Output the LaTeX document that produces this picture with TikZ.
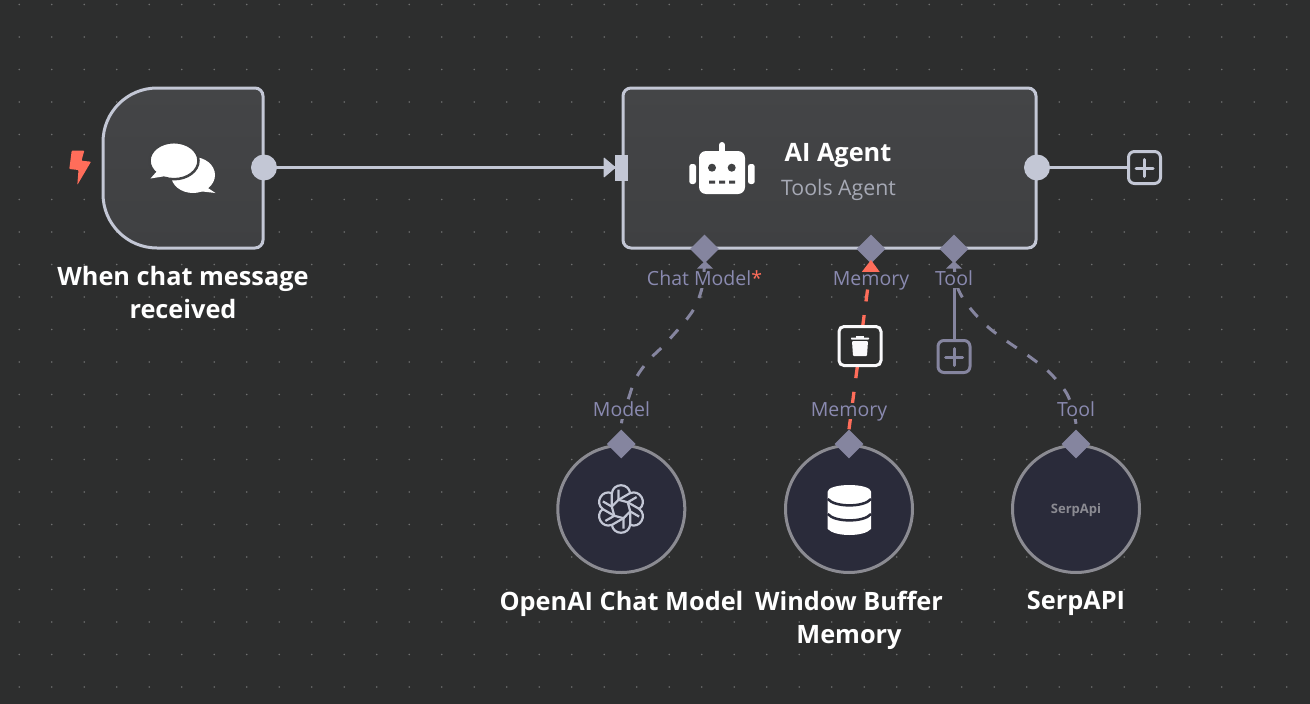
\documentclass[tikz,border=0pt]{standalone}
\usepackage{fontspec}
\usetikzlibrary{shapes.geometric}
\setmainfont{Open Sans}
\definecolor{bgc}{HTML}{2D2E2E}
\definecolor{edgec}{HTML}{C3C7D5}
\definecolor{portc}{HTML}{85859F}
\definecolor{lblc}{HTML}{8A8AB0}
\definecolor{redc}{HTML}{FF6D5A}
\definecolor{dotc}{HTML}{6E6F6F}
\definecolor{subc}{HTML}{2A2B3A}
\definecolor{ringc}{HTML}{8B8B92}
\definecolor{nodec}{HTML}{414244}
\definecolor{nodetop}{HTML}{444547}
\definecolor{nodebot}{HTML}{3F4042}
\tikzset{
 x=1pt,y=-1pt,
 title/.style={text=white,font=\bfseries\fontsize{25.3}{33}\selectfont,align=center,inner sep=0pt},
 portlbl/.style={text=lblc,font=\fontsize{19.5}{24}\selectfont,inner sep=0pt,fill=bgc,text height=13pt,text depth=2.5pt},
 diam/.style={diamond,aspect=1,fill=portc,inner sep=0pt,minimum size=29pt},
 sub/.style={circle,draw=ringc,line width=3pt,fill=subc,minimum size=127pt,inner sep=0pt},
 plusbox/.style={rectangle,rounded corners=6pt,line width=3pt,fill=bgc,minimum size=32pt,inner sep=0pt},
 conn/.style={portc,line width=3pt},
 dashc/.style={portc,line width=3pt,dash pattern=on 12pt off 13pt},
 outdot/.style={circle,fill=edgec,minimum size=26pt,inner sep=0pt},
}
\begin{document}
\begin{tikzpicture}
\useasboundingbox (0,0) rectangle (1310,704);
\fill[bgc] (0,0) rectangle (1310,704);
\foreach \i in {0,...,39}{\foreach \j in {0,...,21}{
  \fill[dotc] ({19.2+32.5*\i},{4.5+32.5*\j}) circle (0.9pt);}}
% trigger node
\draw[edgec,line width=3pt,top color=nodetop,bottom color=nodebot,rounded corners=8pt]
  (180,88) -- (263,88) -- (263,248) [rounded corners=54pt] -- (103,248) -- (103,88) [rounded corners=8pt] -- cycle;
\node[outdot] (trigout) at (264,167.5) {};
\fill[redc,rounded corners=0.8pt] (71.7,150.7) -- (84.3,150.7) -- (81.5,160.7) -- (91,161.7) -- (77.3,185) -- (78.5,170) -- (69.3,169) -- cycle;
% chat icon
\fill[white] (193,175) ellipse (22pt and 18pt);
\fill[white] (205,186) -- (215.5,193) -- (198,191) -- cycle;
\draw[nodec,line width=2.5pt,fill=white] (174,160.7) ellipse (24.5pt and 18.5pt);
\fill[white] (158,170) -- (150.5,178.5) -- (166,176) -- cycle;
% agent
\node[draw=edgec,line width=3pt,rounded corners=8pt,top color=nodetop,bottom color=nodebot,minimum width=413pt,minimum height=160pt,inner sep=0pt] (agent) at (829.5,168) {};
\node[fill=edgec,minimum width=13pt,minimum height=26pt,inner sep=0pt] (agentin) at (621.5,167.5) {};
\fill[edgec,rounded corners=1pt] (603.5,157) -- (616,167.5) -- (603.5,178) -- cycle;
\node[outdot] (agentout) at (1037,167.5) {};
\node[plusbox,draw=edgec] (plusout) at (1144.5,167.5) {};
\draw[edgec,line width=3pt] (trigout) -- (agentin);
\draw[edgec,line width=3pt] (agentout) -- (plusout);
\draw[edgec,line width=3pt,line cap=round] (1136,168) -- (1153,168) (1144.5,159.5) -- (1144.5,176.5);
% robot
\fill[white,rounded corners=7pt] (699,151) rectangle (745,194);
\draw[white,line width=6pt,line cap=round] (722,145) -- (722,152);
\fill[white,rounded corners=2.5pt] (689.3,164) rectangle (696,184);
\fill[white,rounded corners=2.5pt] (748,164) rectangle (754.7,184);
\fill[nodec] (712,167.7) circle (4pt) (731.7,167.7) circle (4pt);
\fill[nodec] (709,180.5) rectangle (715,183.5) (719,180.5) rectangle (725,183.5) (729,180.5) rectangle (735,183.5);
\node[text=white,font=\bfseries\fontsize{25.3}{30}\selectfont,inner sep=0pt] (agenttitle) at (838,155) {AI Agent};
\node[text=edgec!85!black,font=\fontsize{21.3}{25}\selectfont,inner sep=0pt] (agentsub) at (838.5,189.5) {Tools Agent};
\node[title] (trigtitle) at (183,292.5) {When chat message\\received};
% bottom nodes
\node[sub] (openai) at (621.3,509) {};
\node[sub] (memory) at (849,509) {};
\node[sub] (serp) at (1076,509) {};
\node[diam] (pchat) at (704.5,249) {};
\node[diam] (pmem) at (871,249) {};
\node[diam] (ptool) at (954,249) {};
\node[diam] (dopenai) at (621.3,444) {};
\node[diam] (dmem) at (849,444) {};
\node[diam] (dserp) at (1076,444) {};
\fill[portc] (697,268.5) -- (705,261) -- (713,268.5) -- cycle;
\fill[portc] (946,268.5) -- (954,261) -- (962,268.5) -- cycle;
% connectors
\draw[dashc,dash phase=2pt] plot[smooth,tension=0.55] coordinates {(pchat.south) (702,288) (692,312) (667,342) (649,360) (636,378) (628,400) (622,420) (dopenai.north)};
\draw[dashc,dash phase=2pt] plot[smooth,tension=0.55] coordinates {(ptool.south) (957.7,288) (970,308) (988,327) (1008,342) (1030,357) (1050,373) (1067,394) (1075,418) (dserp.north)};
\draw[redc,line width=3.3pt,dash pattern=on 12pt off 13.8pt] (dmem.north) -- (pmem.south);
\fill[redc] (871,260) -- (880.5,273) -- (861,273) -- cycle;
\node[plusbox,draw=portc] (plustool) at (954,356.5) {};
\draw[conn] (ptool) -- (plustool);
\draw[portc,line width=3pt,line cap=round] (945.5,357) -- (962.5,357) (954,348.5) -- (954,365.5);
% port labels
\node[portlbl] (lchat) at (704.5,280) {Chat Model\textcolor{redc}{*}};
\node[portlbl] (lmem) at (871,280) {Memory};
\node[portlbl] (ltool) at (954,280) {Tool};
\node[portlbl] (lmodel) at (621.5,411) {Model};
\node[portlbl] (lmem2) at (849,411) {Memory};
\node[portlbl] (ltool2) at (1076,411) {Tool};
% trash
\node[draw=white!90!edgec,line width=3pt,rounded corners=5pt,fill=bgc,minimum width=42pt,minimum height=39pt,inner sep=0pt] (trash) at (860,346) {};
\fill[white!90!edgec,rounded corners=1pt] (852,341) -- (868,341) -- (867,356) -- (853,356) -- cycle;
\fill[white!90!edgec,rounded corners=0.6pt] (851,337.5) rectangle (869,339.5);
\fill[white!90!edgec] (856,336) rectangle (864,338);
% openai icon
\begin{scope}[shift={(621,509)}]
\foreach \a in {0,60,...,300}{
 \draw[edgec,line width=2.2pt,rotate=\a,line join=round] (9.2,-15.5) .. controls (8,-26.5) and (-8,-26.5) .. (-9.2,-15.5) -- (-9.2,-2.43);
 \draw[edgec,line width=2.2pt,rotate=\a,line join=round] (-2.5,-19.5) -- (-2.5,-9.2) -- (6.72,-6.77);
}
\end{scope}
% database
\fill[white] (827.7,492) -- (827.7,529) .. controls (835,537) and (864,537) .. (871,529) -- (871,492) -- cycle;
\fill[white] (849.35,491.5) ellipse (21.65pt and 6.5pt);
\draw[subc,line width=2.5pt] (827.7,499) .. controls (835,507.5) and (864,507.5) .. (871,499);
\draw[subc,line width=2.5pt] (827.7,514) .. controls (835,522.5) and (864,522.5) .. (871,514);
\node[text=ringc,font=\fontsize{13}{16}\bfseries\selectfont,inner sep=0pt] (serplogo) at (1076,510) {SerpApi};
\node[title] (t1) at (621.5,603.5) {OpenAI Chat Model};
\node[title] (t2) at (849,620) {Window Buffer\\Memory};
\node[title] (t3) at (1076,603.5) {SerpAPI};
\end{tikzpicture}
\end{document}
